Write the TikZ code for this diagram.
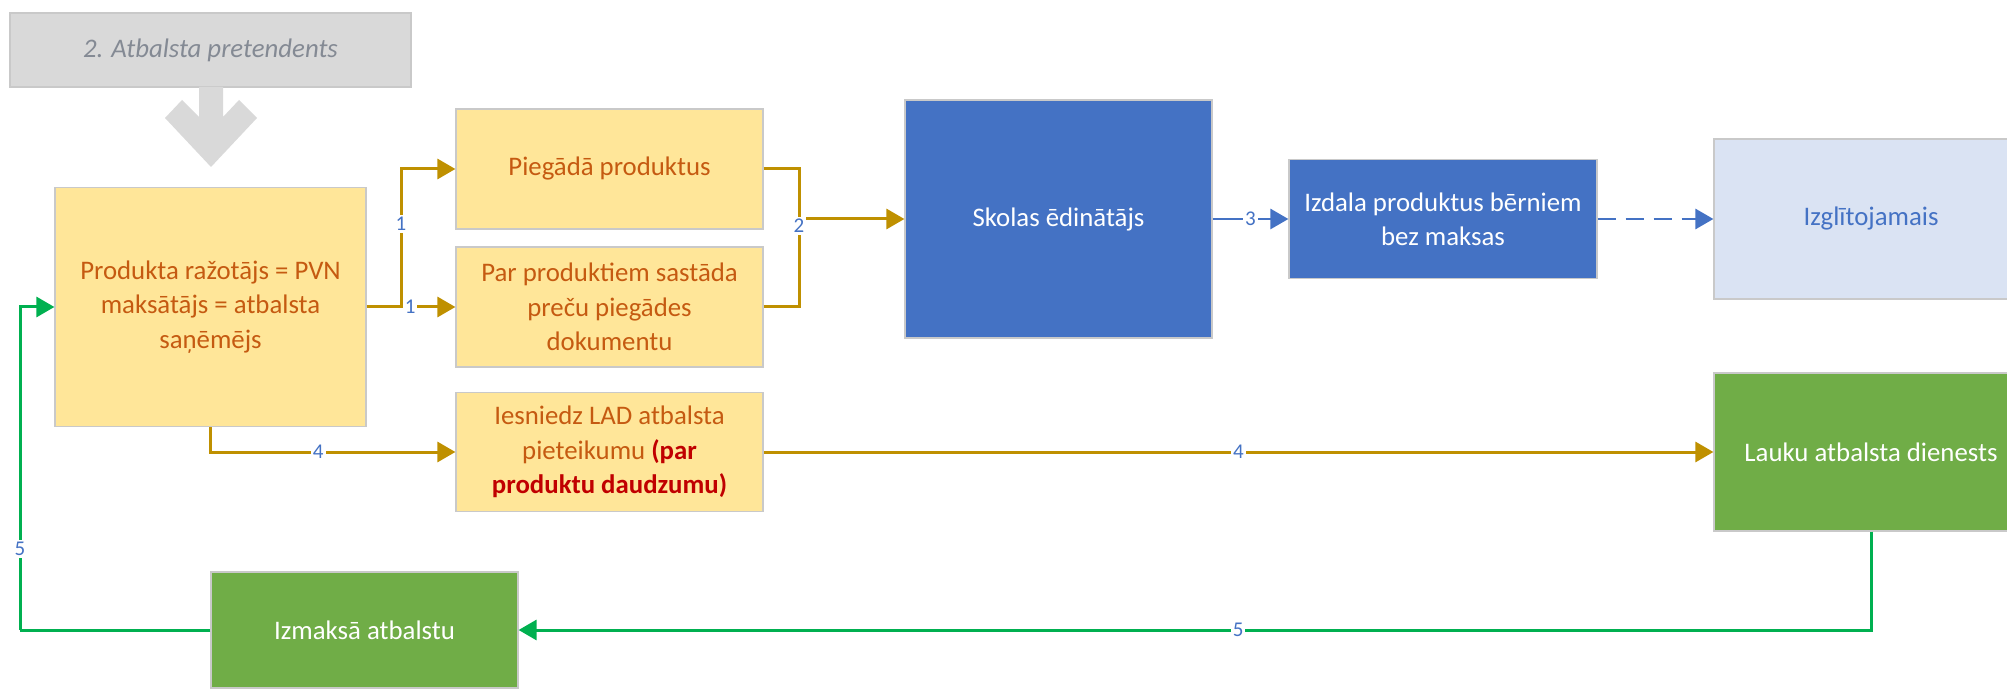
\documentclass[tikz,border=0pt]{standalone}
\usepackage{fontspec}
\setmainfont{Carlito}
\usetikzlibrary{arrows.meta}
\definecolor{boxyellow}{HTML}{FFE699}
\definecolor{txtorange}{HTML}{C55A11}
\definecolor{framegray}{HTML}{C9C9C9}
\definecolor{boxblue}{HTML}{4472C4}
\definecolor{boxlight}{HTML}{DAE3F3}
\definecolor{boxgreen}{HTML}{70AD47}
\definecolor{boxgray}{HTML}{D9D9D9}
\definecolor{txtgray}{HTML}{848A94}
\definecolor{linegold}{HTML}{BF9000}
\definecolor{linegreen}{HTML}{00B050}
\definecolor{darkred}{HTML}{C00000}
\newcommand{\flowbox}[6]
{\node[#1,minimum width=#2*0.5pt,minimum height=#3*0.5pt] (#4) at (#5) {#6};
}
\tikzset{
	basebox/.style={draw=framegray,line width=0.6pt,align=center,inner sep=2pt},
	greybox/.style={basebox,fill=boxgray,text=txtgray},
	ybox/.style={basebox,fill=boxyellow,text=txtorange},
	bbox/.style={basebox,fill=boxblue,text=white},
	lbbox/.style={basebox,fill=boxlight,text=boxblue},
	gbox/.style={basebox,fill=boxgreen,text=white},
	num/.style={fill=white,text=boxblue,inner sep=1pt,font=\fontsize{10.5}{12}\selectfont},
	flow/.style={line width=1.5pt,draw=linegold},
	bflow/.style={line width=1.4pt,draw=boxblue},
	gflow/.style={line width=1.5pt,draw=linegreen}
}
\begin{document}
\begin{tikzpicture}[x=0.5pt,y=-0.5pt,>={Triangle[length=9pt,width=10pt]},
	every node/.style={font=\fontsize{13.4}{17.2}\selectfont}]
	\useasboundingbox (0,0) rectangle (2007,689);
	\clip (0,0) rectangle (2007,689);
	% boxes
	\flowbox{greybox}{401}{74}{pret}{210.5,50}{\itshape 2. Atbalsta pretendents}
	\fill[boxgray] (199,87) -- (223,87) -- (223,117) -- (239,100) -- (257,118) -- (211,167) -- (165,118) -- (182,100) -- (199,117) -- cycle;
	\flowbox{ybox}{311}{239}{prod}{210.5,307}{Produkta ražotājs = PVN\\maksātājs = atbalsta\\saņēmējs}
	\flowbox{ybox}{307}{120}{pieg}{609.5,169}{Piegādā produktus}
	\flowbox{ybox}{307}{120}{dok}{609.5,307}{Par produktiem sastāda\\preču piegādes\\dokumentu}
	\flowbox{ybox}{307}{119}{iesn}{609.5,452}{Iesniedz LAD atbalsta\\pieteikumu \textcolor{darkred}{\bfseries (par}\\\textcolor{darkred}{\bfseries produktu daudzumu)}}
	\flowbox{bbox}{307}{238}{skola}{1058.5,219}{Skolas ēdinātājs}
	\flowbox{bbox}{308}{119}{izdala}{1443,219}{Izdala produktus bērniem\\bez maksas}
	\flowbox{lbbox}{314}{160}{izgl}{1871,219}{Izglītojamais}
	\flowbox{gbox}{314}{158}{lad}{1871,452}{Lauku atbalsta dienests}
	\flowbox{gbox}{307}{116}{izm}{364.5,630}{Izmaksā atbalstu}
	% connectors
	\coordinate (split) at (401,307);
	\coordinate (merge) at (799,219);
	\coordinate (back) at (20,630);
	\draw[flow,->] (prod.east) -- (dok.west) node[num,pos=0.49] {1};
	\draw[flow,->] (split) |- (pieg.west) node[num,pos=0.3] {1};
	\draw[flow] (pieg.east) -| (merge);
	\draw[flow] (dok.east) -| (merge);
	\draw[flow,->] (merge) -- (skola.west);
	\node[num] (n2) at (799,226) {2};
	\draw[bflow,->] (skola.east) -- (izdala.west) node[num,midway] {3};
	\draw[bflow,->,dash pattern=on 9pt off 5pt] (izdala.east) -- (izgl.west);
	\draw[flow,->] (prod.south) |- (iesn.west) node[num,pos=0.72] {4};
	\draw[flow,->] (iesn.east) -- (lad.west) node[num,midway] {4};
	\draw[gflow,->] (lad.south) |- (izm.east) node[num,pos=0.734] {5};
	\draw[gflow] (izm.west) -- (back);
	\draw[gflow,->] (back) |- (prod.west) node[num,pos=0.125] {5};
\end{tikzpicture}
\end{document}
